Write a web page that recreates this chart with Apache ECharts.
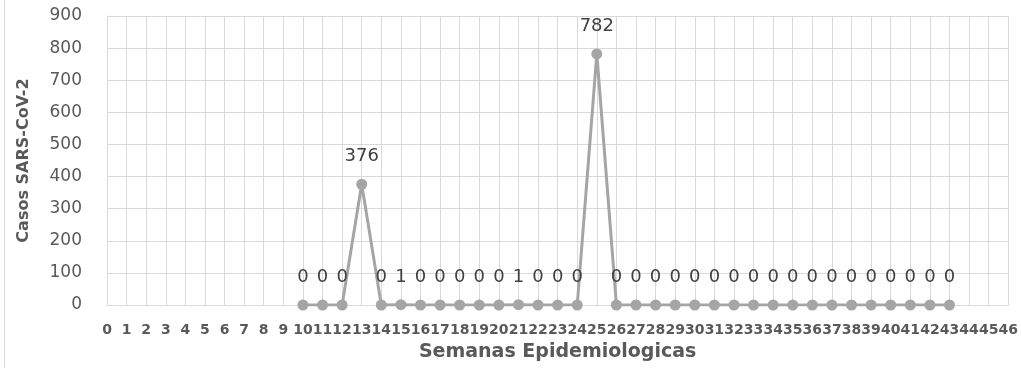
<!DOCTYPE html>
<html>
<head>
<meta charset="utf-8">
<script src="https://cdn.jsdelivr.net/npm/echarts@6/dist/echarts.min.js"></script>
<style>
  html, body { margin: 0; padding: 0; background: #fff; }
  #chart { width: 1021px; height: 368px; }
</style>
</head>
<body>
<div id="chart"></div>
<script>
// semanas 0..46 en el eje x
const semanas = []
for (let i = 0; i <= 46; i++) semanas.push(String(i))

// casos por semana (solo semanas 10 a 43 tienen dato)
const primeraSemana = 10
const casos = [
  0, 0, 0, 376, 0, 1, 0, 0, 0, 0, 0, 1, 0, 0, 0, 782,
  0, 0, 0, 0, 0, 0, 0, 0, 0, 0, 0, 0, 0, 0, 0, 0, 0, 0
]
const yTicks = [0, 900, 100] // min, max, intervalo

const serieData = semanas.map((s, i) => {
  const k = i - primeraSemana
  return k >= 0 && k < casos.length ? casos[k] : null
})

const myEchart = echarts.init(document.getElementById('chart'))
const option = {
  backgroundColor: '#fff',
  textStyle: { fontFamily: 'DejaVu Sans' },
  grid: { left: 107, right: 11, top: 16, bottom: 63 },
  graphic: [
    {
      type: 'line',
      shape: { x1: 4.5, y1: 0, x2: 4.5, y2: 368 },
      style: { stroke: '#D9D9D9', lineWidth: 1 }
    }
  ],
  xAxis: {
    type: 'category',
    data: semanas,
    boundaryGap: false,
    name: 'Semanas Epidemiologicas',
    nameLocation: 'middle',
    nameGap: 38,
    nameTextStyle: { fontSize: 19, fontWeight: 'bold', color: '#595959' },
    axisLine: { lineStyle: { color: '#D9D9D9', width: 1 } },
    axisTick: { show: false },
    axisLabel: { interval: 0, fontSize: 14, fontWeight: 'bold', color: '#595959', margin: 18 },
    splitLine: { show: true, interval: 0, lineStyle: { color: '#D9D9D9', width: 1 } }
  },
  yAxis: {
    type: 'value',
    min: yTicks[0],
    max: yTicks[1],
    interval: yTicks[2],
    name: 'Casos SARS-CoV-2',
    nameLocation: 'middle',
    nameGap: 75,
    nameTextStyle: { fontSize: 16, fontWeight: 'bold', color: '#595959' },
    axisLine: { show: true, lineStyle: { color: '#D9D9D9', width: 1 } },
    axisTick: { show: false },
    axisLabel: { fontSize: 17, color: '#595959', margin: 25 },
    splitLine: { lineStyle: { color: '#D9D9D9', width: 1 } }
  },
  series: [
    {
      type: 'line',
      data: serieData,
      symbol: 'circle',
      symbolSize: 11,
      color: '#A5A5A5',
      lineStyle: { color: '#A5A5A5', width: 3 },
      itemStyle: { color: '#A5A5A5' },
      label: {
        show: true,
        position: 'top',
        distance: 13,
        fontSize: 18,
        color: '#404040'
      },
      animation: false
    }
  ]
}
myEchart.setOption(option)
</script>
</body>
</html>
